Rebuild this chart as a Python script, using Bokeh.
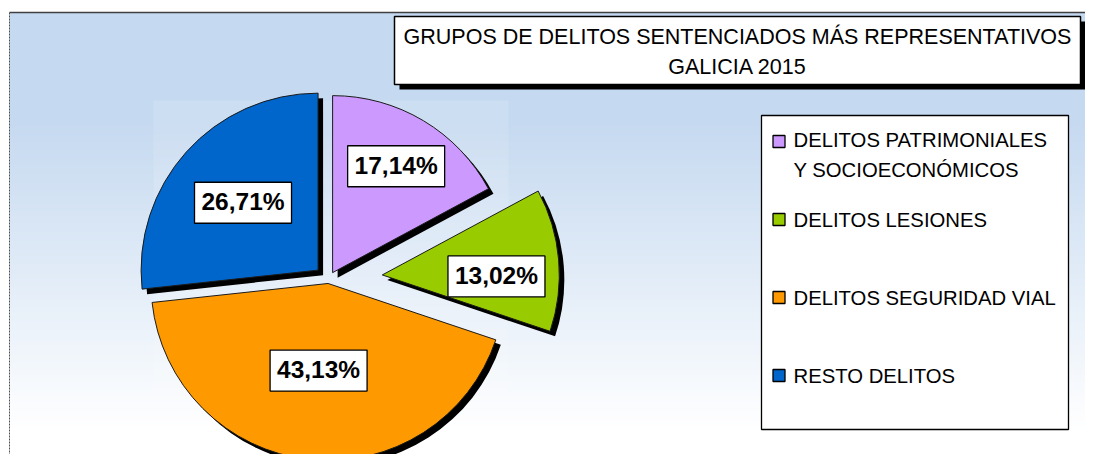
import numpy as np
from bokeh.plotting import figure
from bokeh.models import Range1d
from bokeh.core.properties import value
from bokeh.embed import file_html
from bokeh.resources import INLINE

# ---------------- data ----------------
categories = ["DELITOS PATRIMONIALES\nY SOCIOECONÓMICOS", "DELITOS LESIONES",
              "DELITOS SEGURIDAD VIAL", "RESTO DELITOS"]
percentages = [17.14, 13.02, 43.13, 26.71]
title_lines = ["GRUPOS DE DELITOS SENTENCIADOS MÁS REPRESENTATIVOS", "GALICIA 2015"]

# ---------------- style ----------------
colors = ["#CC99FF", "#99CC00", "#FF9900", "#0066CC"]
explode = np.array([8, 54, 4, 14])
label_frac = np.array([0.70, 0.645, 0.495, 0.57])
label_rot = np.radians([0, -5.6, 0, 0])
SANS = value("Liberation Sans")

W, H = 1085, 454
p = figure(width=W, height=H, x_range=Range1d(0, W), y_range=Range1d(-H, 0),
           output_backend="svg", toolbar_location=None, x_axis_type=None, y_axis_type=None,
           min_border=0, outline_line_color=None)
p.grid.visible = False
p.background_fill_color = "white"
p.border_fill_color = "white"

# background gradient (chart area)
top_c = np.array([197, 217, 240])
ys = np.arange(12, H + 1, 3)
cols = []
for yy in ys:
    t = np.clip((yy - 120) / (430 - 120), 0, 1)
    c = top_c * (1 - t) + np.array([255, 255, 255]) * t
    cols.append("#%02x%02x%02x" % tuple(int(round(v)) for v in c))
p.quad(left=9, right=W, top=-ys, bottom=-(ys + 4), fill_color=cols, line_color=None)
# plot area (slightly lighter)
p.quad(left=153, right=508, top=-100, bottom=-453, fill_color="white", fill_alpha=0.13, line_color=None)
# chart border
p.segment(x0=9, y0=-12, x1=W, y1=-12, line_color="#404040", line_width=1.5)
p.segment(x0=9, y0=-12, x1=9, y1=-H, line_color="#505050", line_width=1, line_dash="2 1")

# ---------------- pie ----------------
R = 177
cx, cy = 328, -279
vals = np.array(percentages)
cum = np.concatenate([[0], np.cumsum(vals)]) / vals.sum()
start = np.pi / 2 - 2 * np.pi * cum[:-1]
end = np.pi / 2 - 2 * np.pi * cum[1:]
mid = (start + end) / 2
vx = cx + explode * np.cos(mid)
vy = cy + explode * np.sin(mid)

p.wedge(x=vx + 5, y=vy - 5, radius=R, start_angle=start, end_angle=end, direction="clock",
        fill_color="black", line_color=None)
p.wedge(x=vx, y=vy, radius=R, start_angle=start, end_angle=end, direction="clock",
        fill_color=colors, line_color="#1a1a1a", line_width=1)

lx = vx + label_frac * R * np.cos(mid + label_rot)
ly = vy + label_frac * R * np.sin(mid + label_rot)
pct_labels = [("%.2f" % v).replace(".", ",") + "%" for v in percentages]
p.rect(x=lx, y=ly, width=97, height=41, fill_color="white", line_color="black", line_width=1.3)
p.text(x=lx, y=ly + 1, text=pct_labels, text_align="center", text_baseline="middle",
       text_font=SANS, text_font_style="bold", text_font_size="24.5px", text_color="black")

# ---------------- title ----------------
tb_left, tb_right = 394, 1080
p.quad(left=tb_left + 5, right=tb_right + 5, top=-21, bottom=-89, fill_color="black", line_color=None)
p.quad(left=tb_left, right=tb_right, top=-16, bottom=-84, fill_color="white", line_color="black", line_width=1.5)
tcx = (tb_left + tb_right) / 2
p.text(x=[tcx, tcx], y=[-36, -66], text=title_lines, text_align="center", text_baseline="middle",
       text_font=SANS, text_font_size="21.5px", text_color="black")

# ---------------- legend ----------------
p.quad(left=761, right=1068, top=-115, bottom=-429, fill_color="white", line_color="black", line_width=1.3)
n_lines = np.array([c.count("\n") + 1 for c in categories])
my = 141 + 78 * np.arange(len(categories))
line_h = 27
ty = my + (n_lines - 1) * line_h / 2
p.rect(x=778.5, y=-my, width=12, height=12, fill_color=colors, line_color="black", line_width=1.3)
p.text(x=793, y=-ty, text=categories, text_align="left", text_baseline="middle",
       text_font=SANS, text_font_size="20.3px", text_line_height=1.33, text_color="black")

open("out.html", "w").write(file_html(p, INLINE))
